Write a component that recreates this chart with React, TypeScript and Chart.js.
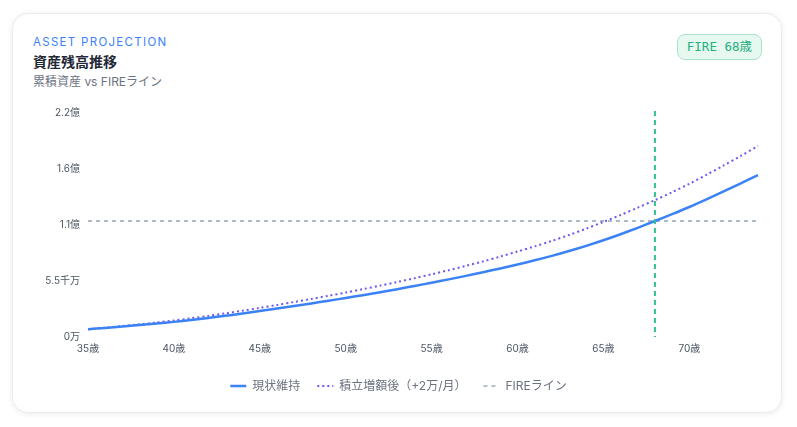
import { useEffect, useRef } from "react";
import { Chart, registerables } from "chart.js";

Chart.register(...registerables);

// ages on the x axis
const ages = [
  35, 36, 37, 38, 39, 40, 41, 42, 43, 44, 45, 46, 47, 48, 49, 50, 51, 52, 53, 54,
  55, 56, 57, 58, 59, 60, 61, 62, 63, 64, 65, 66, 67, 68, 69, 70, 71, 72, 73, 74,
];

// values in 万円
const currentPlan = [
  760, 890, 1028, 1173, 1325, 1485, 1675, 1875, 2085, 2310, 2550, 2795, 3045, 3300,
  3560, 3830, 4110, 4400, 4700, 5010, 5330, 5660, 6005, 6365, 6735, 7120, 7530,
  7970, 8445, 8955, 9500, 10095, 10725, 11390, 12065, 12770, 13520, 14295, 15090,
  15910,
];

const increasedPlan = [
  760, 914, 1077, 1249, 1428, 1620, 1841, 2075, 2320, 2582, 2861, 3147, 3440, 3740,
  4047, 4367, 4700, 5045, 5403, 5774, 6158, 6560, 6985, 7430, 7900, 8400, 8900,
  9440, 10020, 10640, 11300, 11980, 12700, 13440, 14220, 15045, 15930, 16845, 17785,
  18760,
];

const fireTarget = 11400;
const fireAge = 68;

const yTickLabels = ["0万", "5.5千万", "1.1億", "1.6億", "2.2億"];

const FONT = "Inter, 'Noto Sans CJK JP', 'Noto Sans', sans-serif";

function ProjectionChart() {
  const canvasRef = useRef<HTMLCanvasElement>(null);

  useEffect(() => {
    if (!canvasRef.current) return;

    // vertical marker at the FIRE age
    const fireMarker = {
      id: "fireMarker",
      afterDatasetsDraw(chart: Chart) {
        const { ctx, chartArea, scales } = chart;
        const x = scales.x.getPixelForValue(ages.indexOf(fireAge));
        ctx.save();
        ctx.strokeStyle = "#34c08e";
        ctx.lineWidth = 2;
        ctx.setLineDash([5, 4]);
        ctx.beginPath();
        ctx.moveTo(x, chartArea.top - 2);
        ctx.lineTo(x, chartArea.bottom);
        ctx.stroke();
        ctx.restore();
      },
    };

    const chart = new Chart(canvasRef.current, {
      type: "line",
      data: {
        labels: ages.map((a) => `${a}歳`),
        datasets: [
          {
            label: "現状維持",
            data: currentPlan,
            borderColor: "#3b82f6",
            backgroundColor: "#3b82f6",
            borderWidth: 2.5,
            pointRadius: 0,
            pointStyle: "line",
            tension: 0.3,
          },
          {
            label: "積立増額後（+2万/月）",
            data: increasedPlan,
            borderColor: "#6a5cf0",
            backgroundColor: "#6a5cf0",
            borderWidth: 2,
            borderDash: [2, 3],
            pointRadius: 0,
            pointStyle: "line",
            tension: 0.3,
          },
          {
            label: "FIREライン",
            data: ages.map(() => fireTarget),
            borderColor: "#94a3b8",
            backgroundColor: "#94a3b8",
            borderWidth: 1.4,
            borderDash: [4, 4],
            pointRadius: 0,
            pointStyle: "line",
          },
        ],
      },
      options: {
        animation: false,
        responsive: true,
        maintainAspectRatio: false,
        layout: { padding: { top: 8, right: 0, bottom: 6, left: 0 } },
        plugins: {
          legend: {
            position: "bottom",
            labels: {
              usePointStyle: true,
              pointStyleWidth: 16,
              padding: 17,
              color: "#6b7280",
              font: { family: FONT, size: 12 },
              // keep the dash pattern of each line in the legend sample
              generateLabels: (c) =>
                Chart.defaults.plugins.legend.labels.generateLabels(c).map((item) => {
                  const ds = c.data.datasets[item.datasetIndex ?? 0] as any;
                  return {
                    ...item,
                    lineDash: ds.borderDash || [],
                    lineWidth: ds.borderWidth,
                    strokeStyle: ds.borderColor,
                  };
                }),
            },
          },
          tooltip: { enabled: false },
        },
        scales: {
          x: {
            grid: { display: false, drawTicks: false },
            border: { display: false },
            ticks: {
              autoSkip: false,
              maxRotation: 0,
              padding: 6,
              color: "#4b5563",
              font: { family: FONT, size: 10 },
              callback: (_v, i) => (ages[i] % 5 === 0 ? `${ages[i]}歳` : ""),
            },
            afterFit: (scale) => {
              scale.height = 26;
            },
          },
          y: {
            min: 0,
            max: 22000,
            grid: { display: false, drawTicks: false },
            border: { display: false },
            ticks: {
              stepSize: 5500,
              padding: 8,
              color: "#4b5563",
              font: { family: FONT, size: 10 },
              callback: (_v, i) => yTickLabels[i],
            },
            afterFit: (scale) => {
              scale.width = 55;
            },
          },
        },
      },
      plugins: [fireMarker],
    });

    return () => {
      chart.destroy();
    };
  }, []);

  return (
    <div style={{ position: "relative", height: 309, marginTop: 8, marginRight: -3 }}>
      <canvas ref={canvasRef}></canvas>
    </div>
  );
}

export default function App() {
  return (
    <div
      style={{
        position: "relative",
        margin: "5px 4px",
        width: 770,
        height: 400,
        boxSizing: "border-box",
        padding: "20px 20px 0 20px",
        background: "#fff",
        borderRadius: 16,
        border: "1px solid #ececec",
        boxShadow: "0 1px 6px rgba(0,0,0,0.08)",
        fontFamily: FONT,
      }}
    >
      <div
        style={{
          fontSize: 11.5,
          lineHeight: "16px",
          letterSpacing: 1.3,
          color: "#3b82f6",
          fontWeight: 400,
        }}
      >
        ASSET PROJECTION
      </div>
      <div
        style={{
          fontSize: 14,
          lineHeight: "20px",
          marginTop: 2,
          fontWeight: 700,
          color: "#1f2937",
        }}
      >
        資産残高推移
      </div>
      <div
        style={{
          fontSize: 12,
          lineHeight: "18px",
          marginTop: 1,
          color: "#6b7280",
        }}
      >
        累積資産 vs FIREライン
      </div>
      <div
        style={{
          position: "absolute",
          top: 20,
          right: 19,
          padding: "4px 9px",
          fontFamily: "'DejaVu Sans Mono', 'Noto Sans CJK JP', monospace",
          fontSize: 12.5,
          lineHeight: "16px",
          color: "#22b07d",
          background: "#e7f8f0",
          border: "1px solid #a8e4cb",
          borderRadius: 8,
        }}
      >
        FIRE 68歳
      </div>
      <ProjectionChart />
    </div>
  );
}
